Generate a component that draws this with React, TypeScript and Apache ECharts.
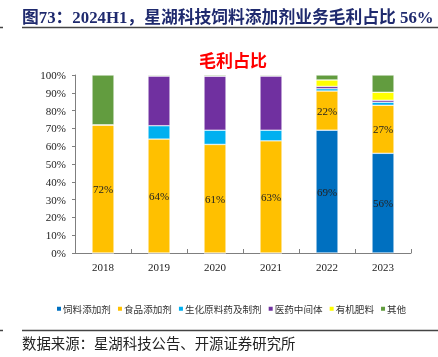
import React, { useEffect, useRef } from "react";
import * as echarts from "echarts";

const years = ["2018", "2019", "2020", "2021", "2022", "2023"];
const seriesNames = ["饲料添加剂", "食品添加剂", "生化原料药及制剂", "医药中间体", "有机肥料", "其他"];
const feedAdditive = [0, 0, 0, 0, 69, 56];
const foodAdditive = [72, 64, 61, 63, 22, 27];
const bioPharma = [0, 7.5, 8, 6, 1.3, 1.7];
const pharmaIntermediate = [0, 28, 30.4, 30.5, 1.3, 1.1];
const organicFertilizer = [0, 0, 0, 0, 3.6, 4.5];
const others = [28, 0.5, 0.6, 0.5, 2.8, 9.7];
const colors = ["#0070C0", "#FFC000", "#00B0F0", "#7030A0", "#FFFF00", "#629C3F"];
const labelled = [true, true, false, false, false, false];

const titleText = "图73：2024H1，星湖科技饲料添加剂业务毛利占比 56%";
const chartTitle = "毛利占比";
const sourceText = "数据来源：星湖科技公告、开源证券研究所";

export default function App() {
  const ref = useRef<HTMLDivElement>(null);
  useEffect(() => {
    if (!ref.current) return;
    const chart = echarts.init(ref.current, undefined, { renderer: "svg" });
    const dataSets = [feedAdditive, foodAdditive, bioPharma, pharmaIntermediate, organicFertilizer, others];
    chart.setOption({
      animation: false,
      grid: { left: 75, right: 27, top: 75, bottom: 104 },
      title: {
        text: chartTitle,
        left: 228,
        textAlign: "center",
        top: 46,
        textStyle: { color: "#FF0000", fontSize: 17, fontWeight: "bold", fontFamily: "Noto Sans CJK SC" },
      },
      legend: {
        data: seriesNames,
        left: 55,
        top: 304,
        padding: 0,
        itemWidth: 6,
        itemHeight: 6,
        itemGap: 5,
        icon: "rect",
        textStyle: { fontSize: 9.6, color: "#333", fontFamily: "Noto Sans CJK SC", padding: [0, 0, 0, -4] },
      },
      xAxis: {
        type: "category",
        data: years,
        axisLine: { lineStyle: { color: "#7f7f7f" } },
        axisTick: { show: true, inside: true, length: 4, lineStyle: { color: "#7f7f7f" } },
        axisLabel: { color: "#222", fontSize: 11, fontFamily: "Liberation Serif", margin: 8 },
      },
      yAxis: {
        type: "value",
        min: 0,
        max: 100,
        interval: 10,
        axisLine: { show: true, lineStyle: { color: "#7f7f7f" } },
        axisTick: { show: true, length: 3, lineStyle: { color: "#7f7f7f" } },
        splitLine: { show: false },
        axisLabel: { formatter: "{value}%", color: "#222", fontSize: 11, fontFamily: "Liberation Serif", margin: 9 },
      },
      series: seriesNames.map((name, i) => ({
        name,
        type: "bar",
        stack: "total",
        barWidth: 22,
        data: dataSets[i],
        itemStyle: { color: colors[i], borderColor: "#ffffff", borderWidth: 0.5 },
        label: {
          show: labelled[i],
          position: "inside",
          color: "#222",
          fontSize: 11,
          fontFamily: "Liberation Serif",
          formatter: (p: any) => (p.value > 0 ? Math.round(p.value) + "%" : ""),
        },
      })),
      graphic: [
        {
          type: "text",
          left: 22,
          top: 9,
          style: {
            text: titleText,
            fontSize: 16.8,
            fontWeight: "bold",
            fontFamily: "Liberation Serif, Noto Sans CJK SC",
            fill: "#1f2a6e",
          },
        },
        { type: "line", shape: { x1: 22, y1: 27.5, x2: 438, y2: 27.5 }, style: { stroke: "#444", lineWidth: 1.5 } },
        { type: "line", shape: { x1: 0, y1: 27.5, x2: 3, y2: 27.5 }, style: { stroke: "#444", lineWidth: 1.5 } },
        { type: "line", shape: { x1: 22, y1: 330.5, x2: 438, y2: 330.5 }, style: { stroke: "#444", lineWidth: 1.5 } },
        { type: "line", shape: { x1: 0, y1: 330.5, x2: 3, y2: 330.5 }, style: { stroke: "#444", lineWidth: 1.5 } },
        {
          type: "text",
          left: 22,
          top: 335,
          style: { text: sourceText, fontSize: 14.4, fontFamily: "Noto Sans CJK SC", fill: "#222" },
        },
      ],
    });
    return () => chart.dispose();
  }, []);
  return <div ref={ref} style={{ position: "fixed", left: 0, top: 0, width: 438, height: 357 }} />;
}
